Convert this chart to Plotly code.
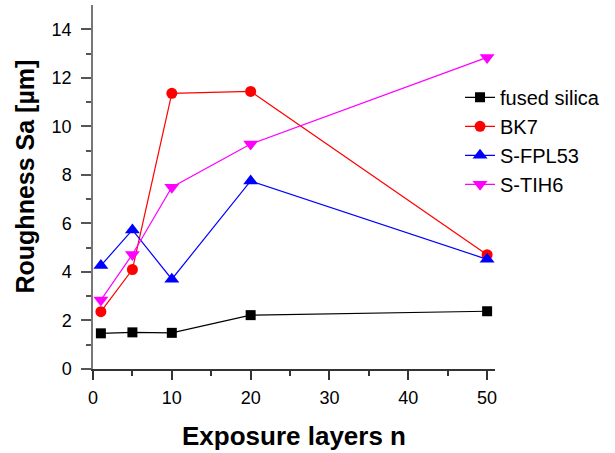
import plotly.graph_objects as go

layers = [1, 5, 10, 20, 50]
fused_silica = [1.47, 1.51, 1.49, 2.22, 2.38]
bk7 = [2.36, 4.10, 11.36, 11.44, 4.71]
s_fpl53 = [4.26, 5.73, 3.70, 7.75, 4.52]
s_tih6 = [2.84, 4.72, 7.49, 9.27, 12.84]

series = [
    ("fused silica", fused_silica, "black", "square", 10),
    ("BK7", bk7, "#ff0000", "circle", 11),
    ("S-FPL53", s_fpl53, "#0000ff", "triangle-up", 13),
    ("S-TIH6", s_tih6, "#ff00ff", "triangle-down", 13),
]

fig = go.Figure()
for name, vals, col, sym, sz in series:
    fig.add_trace(go.Scatter(
        x=layers, y=vals, name=name, mode="lines+markers",
        line=dict(color=col, width=1.2),
        marker=dict(symbol=sym, size=sz, color=col, line=dict(width=0)),
    ))

FONT = "Arial, Liberation Sans, sans-serif"
fig.update_layout(
    width=615, height=453,
    margin=dict(l=93, r=120, t=5, b=84),
    paper_bgcolor="white", plot_bgcolor="white",
    font=dict(family=FONT, color="black"),
    showlegend=True,
    legend=dict(x=0.913, y=0.80, xanchor="left", yanchor="top",
                font=dict(size=20, family=FONT, color="black"),
                bgcolor="rgba(0,0,0,0)", borderwidth=0,
                tracegroupgap=0),
    xaxis=dict(range=[0, 51], showgrid=False, zeroline=False,
               showline=True, linecolor="#333", linewidth=1.5,
               tickmode="array", tickvals=[0, 10, 20, 30, 40, 50],
               ticks="outside", ticklen=9, tickcolor="#333", tickwidth=1.5,
               minor=dict(tickvals=[5, 15, 25, 35, 45], ticks="outside",
                          ticklen=5, tickcolor="#333", tickwidth=1.5),
               tickfont=dict(size=18, family=FONT, color="black"),
               ticklabelstandoff=3),
    yaxis=dict(range=[0, 15], showgrid=False, zeroline=False,
               showline=True, linecolor="#777", linewidth=1.5,
               tickmode="array", tickvals=[0, 2, 4, 6, 8, 10, 12, 14],
               ticks="outside", ticklen=10, tickcolor="#555", tickwidth=1.5,
               minor=dict(tickvals=[1, 3, 5, 7, 9, 11, 13], ticks="outside",
                          ticklen=5, tickcolor="#555", tickwidth=1.5),
               tickfont=dict(size=18, family=FONT, color="black"),
               ticklabelstandoff=6),
    annotations=[
        dict(text="<b>Exposure layers n</b>", xref="paper", yref="paper",
             x=0.5, y=-0.184, xanchor="center", yanchor="middle",
             showarrow=False, font=dict(size=26, family=FONT, color="black")),
        dict(text="<b>Roughness Sa [µm]</b>", xref="paper", yref="paper",
             x=-0.169, y=0.529, xanchor="center", yanchor="middle",
             textangle=-90, showarrow=False,
             font=dict(size=25, family=FONT, color="black")),
    ],
)

fig.write_html("out.html", config={"displayModeBar": False},
               post_script="document.body.style.margin='0px';document.body.style.overflow='hidden';")
